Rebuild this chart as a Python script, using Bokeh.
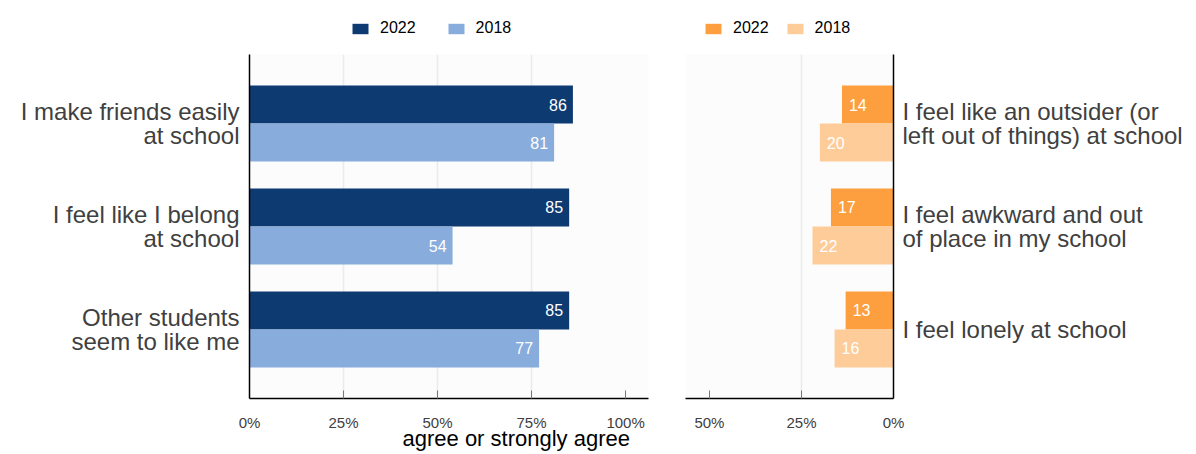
from bokeh.plotting import figure
from bokeh.layouts import row, column
from bokeh.models import (ColumnDataSource, Range1d, FixedTicker, Legend, LegendItem,
                          PrintfTickFormatter, LabelSet)
from bokeh.core.properties import value
from bokeh.embed import file_html
from bokeh.resources import INLINE

# ---- data ----
pos_items = ["I make friends easily\nat school",
             "I feel like I belong\nat school",
             "Other students\nseem to like me"]
pos_2022 = [86, 85, 85]
pos_2018 = [81, 54, 77]

neg_items = ["I feel like an outsider (or\nleft out of things) at school",
             "I feel awkward and out\nof place in my school",
             "I feel lonely at school"]
neg_2022 = [14, 17, 13]
neg_2018 = [20, 22, 16]

years = ["2022", "2018"]
left_ticks = [0, 25, 50, 75, 100]
right_ticks = [0, 25, 50]
x_title = "agree or strongly agree"

# ---- style ----
FONT = "Liberation Sans"
BAR_H = 0.369
C_DB, C_LB = "#0e3a72", "#88acdc"
C_DO, C_LO = "#fd9f3e", "#fecc99"
LABEL_GRAY = "#404040"
W1, W2 = 666, 530
LEG_H, MAIN_H = 54, 400


def sources(v22, v18):
    idx = list(range(len(v22)))
    s22 = ColumnDataSource(dict(y=[i - BAR_H / 2 for i in idx], v=v22, t=[str(v) for v in v22]))
    s18 = ColumnDataSource(dict(y=[i + BAR_H / 2 for i in idx], v=v18, t=[str(v) for v in v18]))
    return s22, s18


def style(p, ticks, grid_ticks, items, standoff):
    p.outline_line_color = None
    p.background_fill_color = "#fcfcfc"
    p.border_fill_color = "white"
    p.ygrid.grid_line_color = None
    p.xgrid.ticker = FixedTicker(ticks=grid_ticks)
    p.xgrid.grid_line_color = "#ebebeb"
    p.xgrid.grid_line_width = 1.5
    p.xaxis.ticker = FixedTicker(ticks=ticks)
    p.xaxis.formatter = PrintfTickFormatter(format="%d%%")
    p.xaxis.axis_line_color = "black"
    p.xaxis.axis_line_width = 1.5
    p.xaxis.major_tick_in = 8
    p.xaxis.major_tick_out = 0
    p.xaxis.minor_tick_line_color = None
    p.xaxis.major_tick_line_color = "#777777"
    p.xaxis.major_label_text_font = FONT
    p.xaxis.major_label_text_font_size = "15px"
    p.xaxis.major_label_text_color = LABEL_GRAY
    p.xaxis.major_label_standoff = 15
    p.yaxis.ticker = FixedTicker(ticks=list(range(len(items))))
    p.yaxis.major_label_overrides = {i: t for i, t in enumerate(items)}
    p.yaxis.axis_line_color = "black"
    p.yaxis.axis_line_width = 1.5
    p.yaxis.major_tick_line_color = None
    p.yaxis.minor_tick_line_color = None
    p.yaxis.major_label_text_font = FONT
    p.yaxis.major_label_text_font_size = "24px"
    p.yaxis.major_label_text_line_height = 0.9
    p.yaxis.major_label_text_color = LABEL_GRAY
    p.yaxis.major_label_standoff = standoff


def legend_fig(width, colors, spacing, x0):
    f = figure(width=width, height=LEG_H, output_backend="svg", toolbar_location=None,
               x_axis_type=None, y_axis_type=None, title=None,
               x_range=Range1d(0, 1), y_range=Range1d(0, 1), min_border=0)
    f.outline_line_color = None
    f.background_fill_color = "white"
    # zero-length bars: only their legend swatches are seen
    dummy = ColumnDataSource(dict(y=[0.5], v=[0]))
    rs = [f.hbar(y="y", left=0, right="v", height=0.5, source=dummy, color=c, line_color=None)
          for c in colors]
    lg = Legend(items=[LegendItem(label=years[i], renderers=[rs[i]]) for i in range(2)],
                orientation="horizontal", location=(x0, 17))
    lg.label_text_font = FONT
    lg.label_text_font_size = "16px"
    lg.label_text_color = "black"
    lg.glyph_width = 20
    lg.glyph_height = 13
    lg.label_height = 13
    lg.label_standoff = 10
    lg.spacing = spacing
    lg.padding = 0
    lg.margin = 0
    lg.border_line_color = None
    lg.background_fill_alpha = 0
    f.add_layout(lg)
    return f


def value_labels(p, s, offset, align):
    p.add_layout(LabelSet(x="v", y="y", text="t", source=s, x_offset=offset, text_align=align,
                          text_baseline="middle", text_color="white", text_font=value(FONT),
                          text_font_size="16px"))


# ---- left panel ----
p1 = figure(width=W1, height=MAIN_H, output_backend="svg", toolbar_location=None, title=None,
            x_range=Range1d(0, 106.1), y_range=Range1d(2.67, -0.67),
            min_border_left=249, min_border_right=18, min_border_top=0, min_border_bottom=56)
s22, s18 = sources(pos_2022, pos_2018)
p1.hbar(y="y", left=0, right="v", height=BAR_H, source=s22, color=C_DB, line_color=None)
p1.hbar(y="y", left=0, right="v", height=BAR_H, source=s18, color=C_LB, line_color=None)
value_labels(p1, s22, -6, "right")
value_labels(p1, s18, -6, "right")
style(p1, left_ticks, [25, 50, 75], pos_items, 4)
# axis title sits right of the panel centre in the reference: pad with no-break spaces
p1.xaxis.axis_label = "\u00a0" * 22 + x_title
p1.xaxis.axis_label_text_font = FONT
p1.xaxis.axis_label_text_font_size = "22px"
p1.xaxis.axis_label_text_font_style = "normal"
p1.xaxis.axis_label_text_color = "black"
p1.xaxis.axis_label_standoff = -8

# ---- right panel ----
p2 = figure(width=W2, height=MAIN_H, output_backend="svg", toolbar_location=None, title=None,
            x_range=Range1d(56.5, 0), y_range=Range1d(2.67, -0.67), y_axis_location="right",
            min_border_left=19, min_border_right=303, min_border_top=0, min_border_bottom=56)
t22, t18 = sources(neg_2022, neg_2018)
p2.hbar(y="y", left=0, right="v", height=BAR_H, source=t22, color=C_DO, line_color=None)
p2.hbar(y="y", left=0, right="v", height=BAR_H, source=t18, color=C_LO, line_color=None)
value_labels(p2, t22, 7, "left")
value_labels(p2, t18, 7, "left")
style(p2, right_ticks, [25], neg_items, 3)

leg1 = legend_fig(W1, [C_DB, C_LB], 30, 350)
leg2 = legend_fig(W2, [C_DO, C_LO], 16, 37)

layout = column(row(leg1, leg2), row(p1, p2))
open("out.html", "w").write(file_html(layout, INLINE))
